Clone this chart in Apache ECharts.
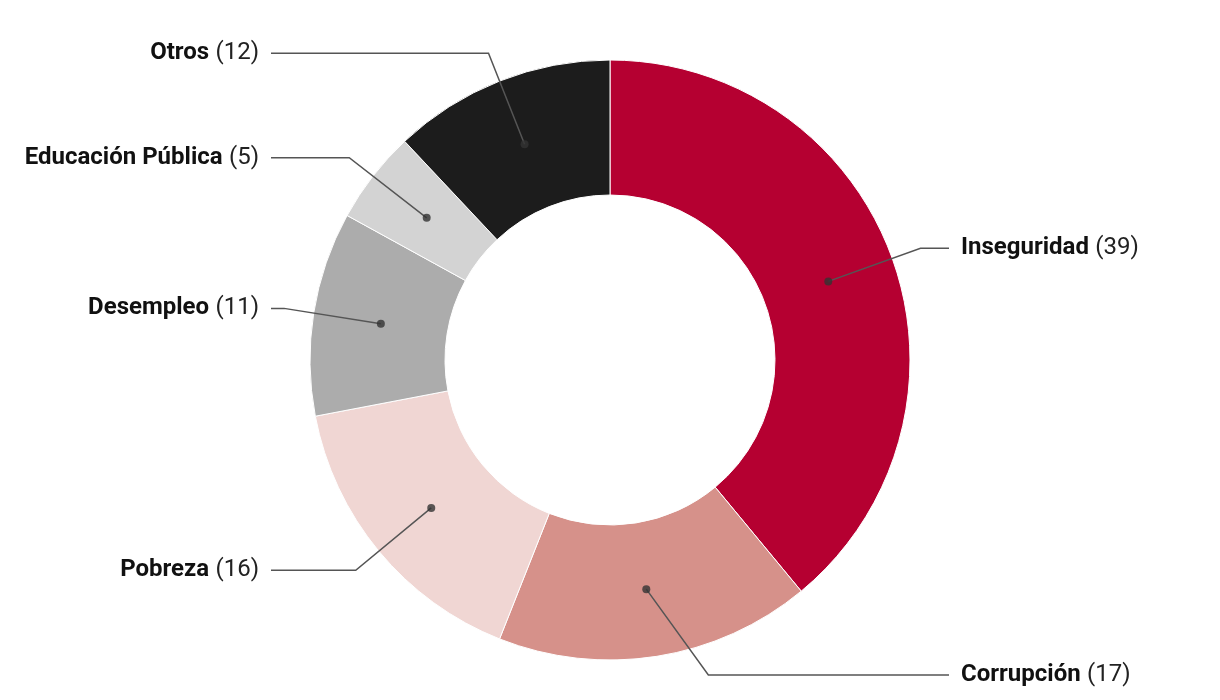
<!DOCTYPE html>
<html>
<head>
<meta charset="utf-8">
<script src="https://cdn.jsdelivr.net/npm/echarts@6/dist/echarts.min.js"></script>
<style>
html,body{margin:0;padding:0;background:#fff;}
#chart{width:1220px;height:700px;}
</style>
</head>
<body>
<div id="chart"></div>
<script>
const categories = ['Inseguridad', 'Corrupción', 'Pobreza', 'Desempleo', 'Educación Pública', 'Otros'];
const values = [39, 17, 16, 11, 5, 12];
const colors = ['#b50031', '#d6918a', '#f0d6d3', '#acacac', '#d3d3d3', '#1c1c1c'];

const CX = 610, CY = 360, R_OUT = 300, R_IN = 165, R_DOT = 232;
const LEN = 98, LEN2 = 9, GAP = 12;
const FONT = 'Roboto, "Liberation Sans", sans-serif';

const total = values.reduce((a, b) => a + b, 0);
let cum = 0;
const dotData = values.map(v => { const mid = cum + v / 2; cum += v; return [R_DOT, mid]; });

const pieData = categories.map((n, i) => ({ name: n, value: values[i], itemStyle: { color: colors[i] } }));
const labelData = categories.map((n, i) => ({ name: n, value: values[i] }));

function alignLabel(params) {
  const pts = params.labelLinePoints;
  if (!pts) return {};
  const isLeft = pts[0][0] < CX;
  const dir = isLeft ? -1 : 1;
  const y = pts[1][1];
  const RE = R_DOT + LEN;
  const dy = y - CY;
  const ex = Math.sqrt(Math.max(RE * RE - dy * dy, 0));
  const elbowX = CX + dir * ex;
  const endX = CX + dir * (RE + LEN2);
  return {
    x: endX + dir * GAP,
    y: y,
    align: isLeft ? 'right' : 'left',
    verticalAlign: 'middle',
    labelLinePoints: [pts[0], [elbowX, y], [endX, y]]
  };
}

const chart = echarts.init(document.getElementById('chart'), null, { renderer: 'canvas' });
chart.setOption({
  animation: false,
  backgroundColor: '#fff',
  polar: { center: [CX, CY], radius: R_OUT },
  angleAxis: { type: 'value', min: 0, max: total, startAngle: 90, clockwise: true, show: false },
  radiusAxis: { type: 'value', min: 0, max: R_OUT, show: false },
  series: [
    {
      type: 'pie',
      silent: true,
      center: [CX, CY],
      radius: [R_IN, R_OUT],
      startAngle: 90,
      clockwise: true,
      label: { show: false },
      labelLine: { show: false },
      itemStyle: { borderColor: '#ffffff', borderWidth: 1 },
      data: pieData,
      z: 1
    },
    {
      type: 'pie',
      silent: true,
      center: [CX, CY],
      radius: [0, R_DOT],
      startAngle: 90,
      clockwise: true,
      avoidLabelOverlap: true,
      itemStyle: { color: 'rgba(0,0,0,0)', borderWidth: 0 },
      label: {
        show: true,
        position: 'outside',
        distanceToLabelLine: GAP,
        padding: [10, 0],
        lineHeight: 28,
        formatter: p => '{b|' + p.name + '} {v|(' + p.value + ')}',
        rich: {
          b: { fontFamily: FONT, fontSize: 24, fontWeight: 'bold', color: '#111', lineHeight: 28 },
          v: { fontFamily: FONT, fontSize: 24, fontWeight: 'normal', color: '#222', lineHeight: 28, padding: [0, 0, 0, 3] }
        }
      },
      labelLine: {
        show: true,
        length: LEN,
        length2: LEN2,
        lineStyle: { color: '#555', width: 1.5 }
      },
      labelLayout: alignLabel,
      data: labelData,
      z: 2
    },
    {
      type: 'scatter',
      coordinateSystem: 'polar',
      silent: true,
      symbol: 'circle',
      symbolSize: 8,
      itemStyle: { color: '#333' },
      data: dotData,
      z: 3
    }
  ]
});
</script>
</body>
</html>
